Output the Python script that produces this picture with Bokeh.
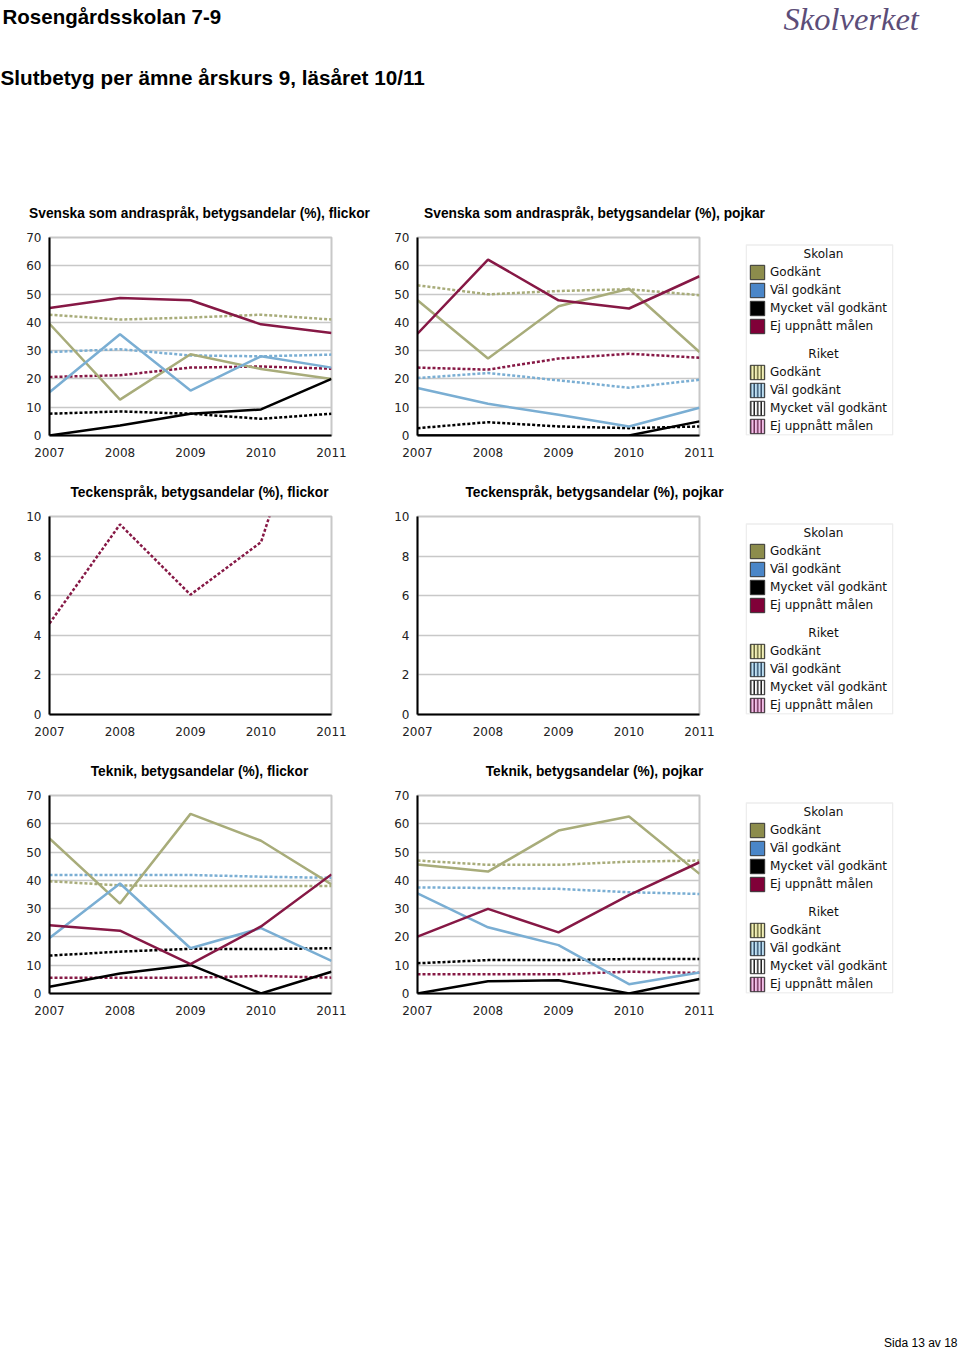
from bokeh.plotting import figure
from bokeh.layouts import column, row
from bokeh.models import Range1d, FixedTicker, Legend, LegendItem, BoxAnnotation
from bokeh.core.properties import value
from bokeh.embed import file_html
from bokeh.resources import INLINE

# ---------------- data ----------------
years = [2007, 2008, 2009, 2010, 2011]
grades = ["Godkänt", "Väl godkänt", "Mycket väl godkänt", "Ej uppnått målen"]
groups = ["Skolan", "Riket"]

page_title = "Rosengårdsskolan 7-9"
page_subtitle = "Slutbetyg per ämne årskurs 9, läsåret 10/11"
logo_text = "Skolverket"
footer_text = "Sida 13 av 18"

chart_titles = [
    "Svenska som andraspråk, betygsandelar (%), flickor",
    "Svenska som andraspråk, betygsandelar (%), pojkar",
    "Teckenspråk, betygsandelar (%), flickor",
    "Teckenspråk, betygsandelar (%), pojkar",
    "Teknik, betygsandelar (%), flickor",
    "Teknik, betygsandelar (%), pojkar",
]

# Svenska som andraspråk, flickor
sva_f_sk_g = [39.5, 12.7, 28.7, 23.5, 20.0]
sva_f_sk_vg = [15.3, 35.8, 15.9, 28.0, 24.0]
sva_f_sk_mvg = [0.0, 3.5, 7.7, 9.2, 20.0]
sva_f_sk_ej = [45.1, 48.6, 47.8, 39.3, 36.2]
sva_f_ri_g = [42.7, 41.0, 41.7, 42.7, 41.0]
sva_f_ri_vg = [29.5, 30.5, 28.3, 28.0, 28.6]
sva_f_ri_mvg = [7.7, 8.5, 7.7, 5.9, 7.7]
sva_f_ri_ej = [20.7, 21.3, 24.0, 24.4, 23.6]

# Svenska som andraspråk, pojkar
sva_p_sk_g = [47.8, 27.2, 45.7, 51.9, 29.5]
sva_p_sk_vg = [16.8, 11.2, 7.3, 3.2, 9.8]
sva_p_sk_mvg = [0.0, 0.0, 0.0, 0.0, 5.0]
sva_p_sk_ej = [36.0, 62.2, 47.8, 44.9, 56.3]
sva_p_ri_g = [53.1, 49.9, 51.1, 51.7, 49.6]
sva_p_ri_vg = [20.3, 22.1, 19.5, 16.9, 19.7]
sva_p_ri_mvg = [2.6, 4.7, 3.2, 2.6, 3.2]
sva_p_ri_ej = [24.0, 23.3, 27.2, 28.9, 27.5]

# Teckenspråk, flickor (only Riket, Ej uppnått målen)
teck_f_ri_ej = [4.6, 9.6, 6.05, 8.7, 19.7]

# Teknik, flickor
tek_f_sk_g = [54.8, 31.8, 63.5, 54.0, 38.6]
tek_f_sk_vg = [19.6, 38.9, 16.0, 23.1, 11.5]
tek_f_sk_mvg = [2.4, 7.1, 10.1, 0.0, 7.7]
tek_f_sk_ej = [24.1, 22.2, 10.4, 23.7, 42.1]
tek_f_ri_g = [39.7, 38.2, 38.0, 38.0, 38.0]
tek_f_ri_vg = [41.9, 41.9, 41.9, 41.3, 40.9]
tek_f_ri_mvg = [13.4, 14.8, 15.8, 15.7, 16.0]
tek_f_ri_ej = [5.6, 5.6, 5.6, 6.2, 5.6]

# Teknik, pojkar
tek_p_sk_g = [45.6, 43.1, 57.6, 62.6, 42.3]
tek_p_sk_vg = [35.4, 23.4, 17.1, 3.3, 7.4]
tek_p_sk_mvg = [0.0, 4.3, 4.7, 0.0, 5.1]
tek_p_sk_ej = [20.1, 29.9, 21.6, 34.8, 46.4]
tek_p_ri_g = [47.0, 45.5, 45.5, 46.6, 47.0]
tek_p_ri_vg = [37.5, 37.3, 37.0, 35.8, 35.2]
tek_p_ri_mvg = [10.7, 11.8, 11.8, 12.2, 12.2]
tek_p_ri_ej = [6.8, 6.8, 6.8, 7.7, 7.3]

# ---------------- styles ----------------
line_colors = ["#a8ac7a", "#7aaed3", "#000000", "#861845"]
swatch_fill = ["#8c8c4c", "#4a86c8", "#000000", "#800038"]
riket_fill = ["#f2f0b8", "#bfe0f2", "#ffffff", "#f2c0e8"]
riket_hatch = ["#55552a", "#1e3c5a", "#000000", "#5a1a40"]

TITLE_FONT = value("Liberation Sans")
AX_FONT = "DejaVu Sans"
ROW_H = 254
TOP_B = 12
FRAME_H = 198
BOT_B = ROW_H - TOP_B - FRAME_H
NAN = float("nan")


def chart(sk, ri, ymax, ystep, width, mbl, mbr):
    p = figure(width=width, height=ROW_H, title=None,
               x_range=Range1d(2007, 2011), y_range=Range1d(0, ymax),
               min_border_left=mbl, min_border_right=mbr,
               min_border_top=TOP_B, min_border_bottom=BOT_B,
               output_backend="svg", toolbar_location=None)
    p.outline_line_color = "#c8c8c8"
    p.outline_line_width = 2
    p.xgrid.visible = False
    p.ygrid.grid_line_color = "#c8c8c8"
    p.ygrid.grid_line_width = 1.5
    p.xaxis.ticker = FixedTicker(ticks=years)
    p.yaxis.ticker = FixedTicker(ticks=list(range(0, ymax + 1, ystep)))
    for ax in (p.xaxis[0], p.yaxis[0]):
        ax.axis_line_color = "black"
        ax.axis_line_width = 2
        ax.major_tick_line_color = None
        ax.minor_tick_line_color = None
        ax.major_tick_out = 0
        ax.major_tick_in = 0
        ax.minor_tick_out = 0
        ax.minor_tick_in = 0
        ax.major_label_text_font = AX_FONT
        ax.major_label_text_font_size = "12px"
        ax.major_label_text_color = "#222222"
    p.xaxis.major_label_standoff = 12
    p.yaxis.major_label_standoff = 8
    for vals, c in zip(ri, line_colors):
        if vals:
            p.line(years, vals, line_color=c, line_width=2.5, line_dash="3 2")
    for vals, c in zip(sk, line_colors):
        if vals:
            p.line(years, vals, line_color=c, line_width=2.5)
    return p


def legend_fig():
    lp = figure(width=225, height=ROW_H, title=None,
                x_range=Range1d(0, 148), y_range=Range1d(FRAME_H, 0),
                x_axis_type=None, y_axis_type=None,
                min_border_left=10, min_border_right=225 - 10 - 148,
                min_border_top=TOP_B, min_border_bottom=BOT_B,
                output_backend="svg", toolbar_location=None)
    lp.outline_line_color = None
    lp.add_layout(BoxAnnotation(left=0.75, right=147.25, top=7.5, bottom=197.5,
                                fill_alpha=0, line_color="#c4c4c4", line_width=1.5))
    lp.text(x=[78, 78], y=[16, 116], text=groups, text_align="center",
            text_baseline="middle", text_font=value(AX_FONT),
            text_font_size="12px", text_color="#111111")
    sk_items, ri_items = [], []
    for g, c in zip(grades, swatch_fill):
        r = lp.rect(x=[NAN], y=[NAN], width=1, height=1, fill_color=c,
                    line_color="#333333", line_width=1)
        sk_items.append(LegendItem(label=g, renderers=[r]))
    for g, c, h in zip(grades, riket_fill, riket_hatch):
        r = lp.rect(x=[NAN], y=[NAN], width=1, height=1, fill_color=c,
                    hatch_pattern="vertical_line", hatch_color=h,
                    hatch_scale=3.5, hatch_weight=1.3,
                    line_color="#333333", line_width=1)
        ri_items.append(LegendItem(label=g, renderers=[r]))
    for items, loc in ((sk_items, (3, 100)), (ri_items, (3, 0))):
        leg = Legend(items=items, location=loc, padding=0, margin=0,
                     spacing=0, glyph_width=18, glyph_height=18,
                     label_height=18, label_standoff=4,
                     label_text_font=AX_FONT, label_text_font_size="12px",
                     label_text_color="#111111",
                     border_line_color=None, background_fill_alpha=0)
        lp.add_layout(leg)
    return lp


def strip(left_title, right_title):
    s = figure(width=960, height=25, title=None,
               x_range=Range1d(0, 960), y_range=Range1d(25, 0),
               x_axis_type=None, y_axis_type=None, min_border=0,
               output_backend="svg", toolbar_location=None)
    s.outline_line_color = None
    s.text(x=[199, 594], y=[13, 13], text=[left_title, right_title],
           text_align="center", text_baseline="middle",
           text_font=TITLE_FONT, text_font_style="bold",
           text_font_size="13.75px", text_color="#000000")
    return s


def chart_row(sk_l, ri_l, sk_r, ri_r, ymax, ystep):
    left = chart(sk_l, ri_l, ymax, ystep, width=384, mbl=49, mbr=384 - 49 - 282)
    right = chart(sk_r, ri_r, ymax, ystep, width=351, mbl=33, mbr=351 - 33 - 282)
    return row(left, right, legend_fig(), spacing=0)


# ---------------- header ----------------
header = figure(width=960, height=200, title=None,
                x_range=Range1d(0, 960), y_range=Range1d(200, 0),
                x_axis_type=None, y_axis_type=None, min_border=0,
                output_backend="svg", toolbar_location=None)
header.outline_line_color = None
header.text(x=[2], y=[16], text=[page_title], text_font=TITLE_FONT,
            text_font_style="bold", text_font_size="20.5px",
            text_baseline="middle", text_color="#000000")
header.text(x=[0], y=[77], text=[page_subtitle], text_font=TITLE_FONT,
            text_font_style="bold", text_font_size="20.7px",
            text_baseline="middle", text_color="#000000")
header.text(x=[783], y=[18], text=[logo_text], text_font=value("Liberation Serif"),
            text_font_style="italic", text_font_size="32.5px",
            text_baseline="middle", text_color="#5c4d78")

# ---------------- rows ----------------
row1 = chart_row([sva_f_sk_g, sva_f_sk_vg, sva_f_sk_mvg, sva_f_sk_ej],
                 [sva_f_ri_g, sva_f_ri_vg, sva_f_ri_mvg, sva_f_ri_ej],
                 [sva_p_sk_g, sva_p_sk_vg, sva_p_sk_mvg, sva_p_sk_ej],
                 [sva_p_ri_g, sva_p_ri_vg, sva_p_ri_mvg, sva_p_ri_ej], 70, 10)
row2 = chart_row([None, None, None, None],
                 [None, None, None, teck_f_ri_ej],
                 [None, None, None, None],
                 [None, None, None, None], 10, 2)
row3 = chart_row([tek_f_sk_g, tek_f_sk_vg, tek_f_sk_mvg, tek_f_sk_ej],
                 [tek_f_ri_g, tek_f_ri_vg, tek_f_ri_mvg, tek_f_ri_ej],
                 [tek_p_sk_g, tek_p_sk_vg, tek_p_sk_mvg, tek_p_sk_ej],
                 [tek_p_ri_g, tek_p_ri_vg, tek_p_ri_mvg, tek_p_ri_ej], 70, 10)

# ---------------- footer ----------------
footer = figure(width=960, height=313, title=None,
                x_range=Range1d(0, 960), y_range=Range1d(313, 0),
                x_axis_type=None, y_axis_type=None, min_border=0,
                output_backend="svg", toolbar_location=None)
footer.outline_line_color = None
footer.text(x=[957], y=[305], text=[footer_text], text_font=TITLE_FONT,
            text_font_size="12px", text_align="right", text_baseline="middle",
            text_color="#000000")

p = column(header,
           strip(chart_titles[0], chart_titles[1]), row1,
           strip(chart_titles[2], chart_titles[3]), row2,
           strip(chart_titles[4], chart_titles[5]), row3,
           footer, spacing=0)

open("out.html", "w").write(file_html(p, INLINE))
